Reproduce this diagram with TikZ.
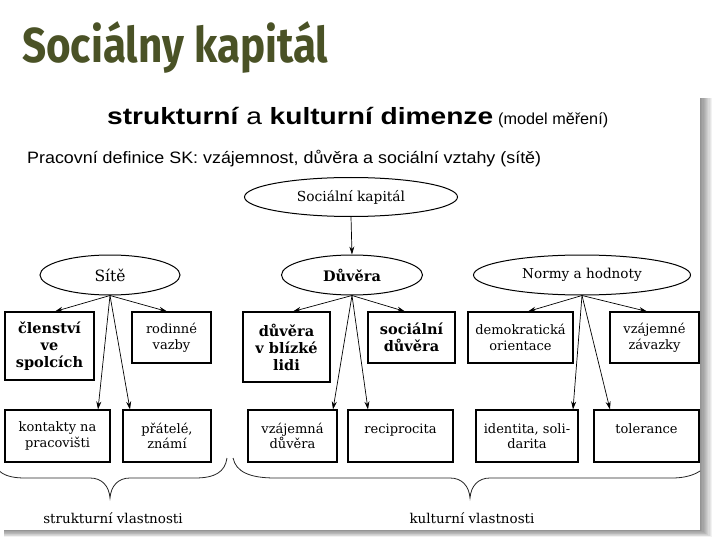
\documentclass[tikz,border=0pt]{standalone}
\usepackage{fontspec}
\usepackage{graphicx}
\setmainfont{DejaVu Serif}
\newfontfamily\hsans{Liberation Sans}
\newfontfamily\titlefont{Fira Sans}
\usetikzlibrary{arrows.meta,shapes.geometric}
\definecolor{titlegreen}{RGB}{74,82,38}
\newcommand{\fitw}[2]{\setbox0=\hbox{#2}\edef\fitscale{\fpeval{(#1)/(\the\wd0)}}\scalebox{\fitscale}[1]{\box0}}
\newcommand{\titletext}{\fontsize{49}{55}\titlefont\bfseries Sociálny kapitál}
\tikzset{
  ell/.style={draw, ellipse, line width=1pt, inner sep=0pt},
  box/.style={draw, rectangle, line width=1.1pt, inner sep=0pt, align=center},
  reg/.style={font=\fontsize{13}{15.5}\selectfont},
  big/.style={font=\fontsize{14.5}{17}\selectfont\bfseries},
  arr/.style={-{Stealth[length=8pt,width=5pt]}, line width=0.7pt},
  bracel/.style={line width=0.8pt, black!85},
  lbl/.style={inner sep=0pt, font=\fontsize{13.5}{16}\selectfont},
}
\begin{document}
\begin{tikzpicture}[x=1pt,y=-1pt]
\useasboundingbox (0,0) rectangle (720,540);
\fill[white] (0,0) rectangle (720,540);
% panel shadow
\foreach \i in {1,...,10}{
  \fill[black,opacity=0.05] (4,98) rectangle (700+1.2*\i,530+0.7*\i);
}
\fill[white] (0,93) rectangle (700,530);
% title
\node[anchor=base west, inner sep=0pt, text=titlegreen] (title) at (22,63)
  {\fitw{306pt}{\titletext}};
% headings
\node[anchor=base west, inner sep=0pt] (head) at (107,125)
  {\fitw{386pt}{\hsans\fontsize{23.5}{26}\selectfont\bfseries strukturní \mdseries a \bfseries kulturní dimenze}};
\node[anchor=base west, inner sep=0pt] (headsub) at (498,125)
  {\fitw{110pt}{\hsans\fontsize{16}{18}\selectfont (model měření)}};
\node[anchor=base west, inner sep=0pt] (defn) at (27,164)
  {\fitw{514pt}{\hsans\fontsize{16.5}{19}\selectfont Pracovní definice SK: vzájemnost, důvěra a sociální vztahy (sítě)}};
% ellipses
\node[ell, minimum width=213pt, minimum height=39pt, font=\fontsize{13.8}{16}\selectfont] (sk) at (351,197) {Sociální kapitál};
\node[ell, minimum width=140pt, minimum height=40pt, font=\fontsize{15.5}{17}\selectfont] (sit) at (110,275) {Sítě};
\node[ell, minimum width=141pt, minimum height=40pt, font=\fontsize{14.5}{16}\selectfont\bfseries] (duv) at (352,275) {Důvěra};
\node[ell, minimum width=217pt, minimum height=40pt, font=\fontsize{13.6}{16}\selectfont] (norm) at (582,275) {Normy a hodnoty};
% row 1
\node[box, big, minimum width=89pt, minimum height=68pt] (clen) at (49.5,346) {členství\\ve\\spolcích};
\node[box, reg, minimum width=79pt, minimum height=51pt] (rod) at (171.5,337.5) {rodinné\\vazby};
\node[box, big, minimum width=87pt, minimum height=70pt] (dbl) at (286.5,347) {důvěra\\v blízké\\lidi};
\node[box, big, minimum width=87pt, minimum height=51pt] (soc) at (411.5,337.5) {sociální\\důvěra};
\node[box, reg, minimum width=105pt, minimum height=51pt] (dem) at (520.5,337.5) {demokratická\\orientace};
\node[box, reg, minimum width=89pt, minimum height=51pt] (zav) at (654.5,337.5) {vzájemné\\závazky};
% row 2
\node[box, reg, minimum width=105pt, minimum height=52pt] (kont) at (57.5,436) {kontakty na\\pracovišti};
\node[box, reg, minimum width=88pt, minimum height=52pt] (prat) at (167,436) {přátelé,\\známí};
\node[box, reg, minimum width=89pt, minimum height=52pt] (vzd) at (292.5,436) {vzájemná\\důvěra};
\node[box, reg, minimum width=105pt, minimum height=52pt] (rec) at (400.5,436) {reciprocita\\\phantom{x}};
\node[box, reg, minimum width=102pt, minimum height=52pt] (ident) at (527,436) {identita, soli-\\darita};
\node[box, reg, minimum width=105pt, minimum height=52pt] (tol) at (646.5,436) {tolerance\\\phantom{x}};
% arrows
\draw[arr] (sk.south) -- (duv.north);
\draw[arr] (sit.south) -- ([xshift=5.5pt]clen.north);
\draw[arr] (sit.south) -- ([xshift=-4.5pt]rod.north);
\draw[arr] (sit.south) -- ([xshift=40.5pt]kont.north);
\draw[arr] (sit.south) -- ([xshift=-37pt]prat.north);
\draw[arr] (duv.south) -- ([xshift=6.5pt]dbl.north);
\draw[arr] (duv.south) -- ([xshift=-6.5pt]soc.north);
\draw[arr] (duv.south) -- ([xshift=40.5pt]vzd.north);
\draw[arr] (duv.south) -- ([xshift=-32.5pt]rec.north);
\draw[arr] (norm.south) -- ([xshift=7.5pt]dem.north);
\draw[arr] (norm.south) -- ([xshift=-7.5pt]zav.north);
\draw[arr] (norm.south) -- ([xshift=46pt]ident.north);
\draw[arr] (norm.south) -- ([xshift=-36.5pt]tol.north);
% braces
\begin{scope}
\clip (0,93) rectangle (700,530);
\draw[bracel] (227,458) .. controls (225,472) and (215,478) .. (195,478) -- (130,478)
  .. controls (118,478) and (111,486) .. (110,498)
  .. controls (109,486) and (102,478) .. (90,478) -- (25,478)
  .. controls (5,478) and (-5,472) .. (-7,458);
\draw[bracel] (233,458) .. controls (236,472) and (250,478) .. (275,478) -- (450,478)
  .. controls (462,478) and (469,486) .. (470,498)
  .. controls (471,486) and (478,478) .. (490,478) -- (672,478)
  .. controls (690,478) and (705,472) .. (712,458);
\end{scope}
\node[lbl] (strv) at (113,518) {strukturní vlastnosti};
\node[lbl] (kulv) at (472,518) {kulturní vlastnosti};
\end{tikzpicture}
\end{document}
